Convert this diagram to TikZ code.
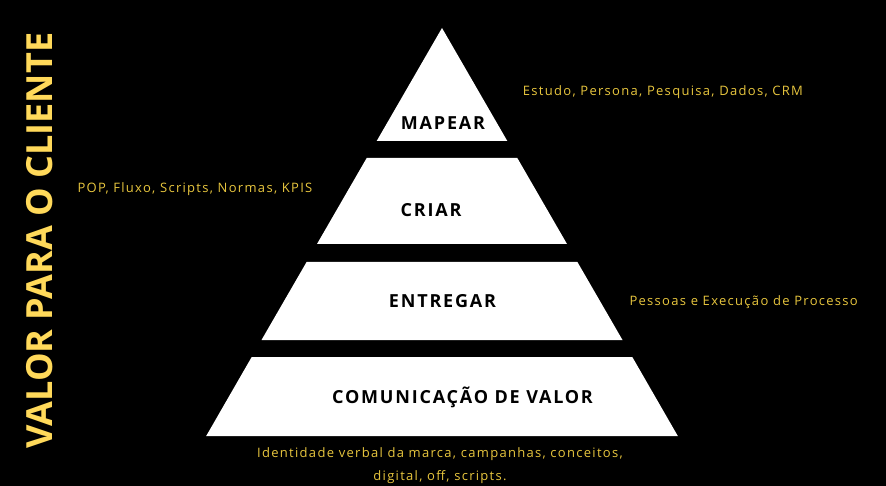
\documentclass[tikz,border=0pt]{standalone}
\usepackage{fontspec}
\setmainfont{Open Sans}
\newfontfamily\labfont[LetterSpace=10]{Open Sans Bold}
\newfontfamily\notefont[LetterSpace=10]{Open Sans}
\newfontfamily\vfont{Open Sans Bold}
\definecolor{vyellow}{HTML}{FFD95A}
\definecolor{nyellow}{HTML}{E8C63E}
\tikzset{
  tier/.style={fill=white,draw=none},
  lab/.style={font=\labfont\fontsize{18}{20}\selectfont,text=black,inner sep=0pt},
  note/.style={font=\notefont\fontsize{13}{22.7}\selectfont,text=nyellow,inner sep=0pt},
}
\begin{document}
\begin{tikzpicture}[x=1pt,y=-1pt]
\fill[black] (0,0) rectangle (886,486);
\useasboundingbox (0,0) rectangle (886,486);
% slope 0.578 per px, apex (442,28)
\fill[tier] (442,28) -- (507.3,141) -- (376.7,141) -- cycle;
\fill[tier] (366.7,158) -- (517.3,158) -- (567,244) -- (317,244) -- cycle;
\fill[tier] (306.6,262) -- (577.4,262) -- (622.5,340) -- (261.5,340) -- cycle;
\fill[tier] (251.7,357) -- (632.3,357) -- (677.8,436) -- (206.2,436) -- cycle;
\node[lab] (mapear) at (443,123) {MAPEAR};
\node[lab] (criar) at (431,210) {CRIAR};
\node[lab] (entregar) at (442.5,301) {ENTREGAR};
\node[lab] (comun) at (462.5,397) {COMUNICAÇÃO DE VALOR};
\node[note,anchor=west] (n1) at (522.7,92) {Estudo, Persona, Pesquisa, Dados, CRM};
\node[note,anchor=west] (n2) at (77.3,189) {POP, Fluxo, Scripts, Normas, KPIS};
\node[note,anchor=west] (n3) at (629.3,302) {Pessoas e Execução de Processo};
\node[note,align=center] (n4) at (440,465.5) {Identidade verbal da marca, campanhas, conceitos,\\digital, off, scripts.};
\node[font=\vfont\fontsize{36}{40}\selectfont,text=vyellow,rotate=90,inner sep=0pt] (side) at (39.5,240.5) {VALOR PARA O CLIENTE};
\end{tikzpicture}
\end{document}
